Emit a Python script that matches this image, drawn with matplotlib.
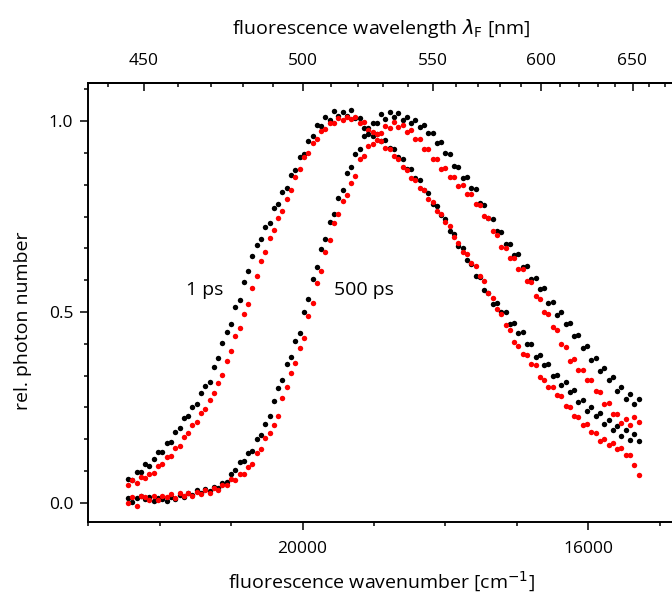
import numpy as np
import matplotlib
matplotlib.use('Agg')
import matplotlib.pyplot as plt
from matplotlib.ticker import MultipleLocator, FixedLocator, AutoMinorLocator, FormatStrFormatter

plt.rcParams['font.family'] = ['Open Sans', 'DejaVu Sans']
plt.rcParams['mathtext.fontset'] = 'dejavusans'

# fluorescence wavenumber (cm^-1), shared by all four spectra
wavenumber = [
    22440, 22380, 22320, 22260, 22200, 22140, 22080, 22020, 21960, 21900,
    21840, 21780, 21720, 21660, 21600, 21540, 21480, 21420, 21360, 21300,
    21240, 21180, 21120, 21060, 21000, 20940, 20880, 20820, 20760, 20700,
    20640, 20580, 20520, 20460, 20400, 20340, 20280, 20220, 20160, 20100,
    20040, 19980, 19920, 19860, 19800, 19740, 19680, 19620, 19560, 19500,
    19440, 19380, 19320, 19260, 19200, 19140, 19080, 19020, 18960, 18900,
    18840, 18780, 18720, 18660, 18600, 18540, 18480, 18420, 18360, 18300,
    18240, 18180, 18120, 18060, 18000, 17940, 17880, 17820, 17760, 17700,
    17640, 17580, 17520, 17460, 17400, 17340, 17280, 17220, 17160, 17100,
    17040, 16980, 16920, 16860, 16800, 16740, 16680, 16620, 16560, 16500,
    16440, 16380, 16320, 16260, 16200, 16140, 16080, 16020, 15960, 15900,
    15840, 15780, 15720, 15660, 15600, 15540, 15480, 15420, 15360, 15300]

# 1 ps spectra
ps1_black = [
    0.063, 0.061, 0.080, 0.082, 0.101, 0.098, 0.116, 0.133, 0.134, 0.156,
    0.160, 0.186, 0.196, 0.223, 0.228, 0.251, 0.258, 0.287, 0.307, 0.316,
    0.357, 0.379, 0.420, 0.447, 0.469, 0.512, 0.532, 0.580, 0.608, 0.646,
    0.676, 0.691, 0.722, 0.734, 0.772, 0.782, 0.814, 0.825, 0.858, 0.871,
    0.905, 0.915, 0.948, 0.960, 0.990, 0.988, 1.010, 1.002, 1.027, 1.013,
    1.024, 1.013, 1.030, 1.008, 1.009, 0.983, 0.982, 0.962, 0.967, 0.948,
    0.951, 0.929, 0.927, 0.905, 0.902, 0.876, 0.876, 0.851, 0.846, 0.819,
    0.812, 0.782, 0.777, 0.753, 0.745, 0.712, 0.704, 0.674, 0.668, 0.637,
    0.627, 0.594, 0.591, 0.559, 0.551, 0.522, 0.524, 0.500, 0.499, 0.469,
    0.471, 0.446, 0.448, 0.417, 0.416, 0.383, 0.387, 0.361, 0.364, 0.333,
    0.336, 0.308, 0.316, 0.290, 0.295, 0.264, 0.269, 0.241, 0.252, 0.228,
    0.236, 0.208, 0.218, 0.191, 0.202, 0.175, 0.190, 0.164, 0.181, 0.161]

ps1_red = [
    0.048, 0.060, 0.053, 0.067, 0.064, 0.076, 0.079, 0.098, 0.103, 0.121,
    0.124, 0.143, 0.150, 0.172, 0.182, 0.203, 0.212, 0.235, 0.245, 0.270,
    0.289, 0.313, 0.336, 0.372, 0.397, 0.436, 0.459, 0.495, 0.522, 0.564,
    0.594, 0.633, 0.656, 0.694, 0.714, 0.747, 0.766, 0.796, 0.819, 0.854,
    0.874, 0.906, 0.917, 0.944, 0.953, 0.975, 0.979, 0.996, 0.994, 1.009,
    1.002, 1.011, 1.006, 1.011, 0.995, 0.999, 0.978, 0.971, 0.950, 0.947,
    0.929, 0.927, 0.908, 0.902, 0.879, 0.873, 0.850, 0.845, 0.824, 0.820,
    0.797, 0.789, 0.764, 0.757, 0.735, 0.726, 0.696, 0.682, 0.658, 0.651,
    0.628, 0.620, 0.594, 0.582, 0.551, 0.538, 0.509, 0.496, 0.465, 0.453,
    0.421, 0.412, 0.389, 0.387, 0.363, 0.360, 0.329, 0.323, 0.303, 0.303,
    0.282, 0.279, 0.255, 0.252, 0.228, 0.224, 0.205, 0.206, 0.186, 0.184,
    0.163, 0.168, 0.151, 0.157, 0.141, 0.143, 0.125, 0.125, 0.100, 0.072]

# 500 ps spectra
ps500_black = [
    0.012, 0.003, 0.012, 0.018, 0.009, 0.015, 0.004, 0.014, 0.010, 0.005,
    0.016, 0.011, 0.022, 0.015, 0.025, 0.020, 0.033, 0.025, 0.036, 0.031,
    0.041, 0.039, 0.052, 0.055, 0.077, 0.085, 0.106, 0.110, 0.131, 0.137,
    0.167, 0.177, 0.208, 0.227, 0.267, 0.301, 0.322, 0.363, 0.382, 0.424,
    0.446, 0.500, 0.533, 0.587, 0.617, 0.666, 0.692, 0.736, 0.758, 0.800,
    0.820, 0.863, 0.879, 0.914, 0.927, 0.961, 0.967, 0.995, 0.995, 1.018,
    1.007, 1.025, 1.010, 1.022, 1.002, 1.012, 0.994, 1.004, 0.985, 0.990,
    0.968, 0.969, 0.943, 0.945, 0.917, 0.915, 0.883, 0.880, 0.852, 0.855,
    0.826, 0.823, 0.785, 0.780, 0.747, 0.745, 0.712, 0.710, 0.678, 0.679,
    0.650, 0.651, 0.618, 0.621, 0.587, 0.590, 0.560, 0.562, 0.525, 0.526,
    0.493, 0.499, 0.468, 0.472, 0.438, 0.439, 0.405, 0.410, 0.374, 0.379,
    0.345, 0.353, 0.322, 0.330, 0.293, 0.303, 0.273, 0.285, 0.258, 0.271]

ps500_red = [
    0.000, 0.016, -0.008, 0.018, 0.015, 0.008, 0.018, 0.008, 0.019, 0.016,
    0.023, 0.014, 0.025, 0.018, 0.026, 0.018, 0.029, 0.023, 0.033, 0.026,
    0.039, 0.034, 0.048, 0.046, 0.062, 0.060, 0.075, 0.075, 0.093, 0.103,
    0.130, 0.140, 0.169, 0.182, 0.205, 0.227, 0.276, 0.303, 0.340, 0.366,
    0.407, 0.432, 0.489, 0.524, 0.575, 0.608, 0.656, 0.689, 0.734, 0.758,
    0.791, 0.806, 0.838, 0.857, 0.900, 0.908, 0.935, 0.941, 0.966, 0.970,
    0.987, 0.983, 0.998, 0.985, 0.991, 0.972, 0.976, 0.953, 0.953, 0.927,
    0.927, 0.900, 0.900, 0.875, 0.877, 0.853, 0.854, 0.831, 0.833, 0.809,
    0.809, 0.784, 0.780, 0.751, 0.746, 0.712, 0.703, 0.671, 0.668, 0.642,
    0.642, 0.614, 0.612, 0.581, 0.578, 0.542, 0.534, 0.499, 0.494, 0.461,
    0.454, 0.417, 0.409, 0.373, 0.376, 0.347, 0.348, 0.322, 0.323, 0.293,
    0.290, 0.259, 0.261, 0.233, 0.232, 0.209, 0.220, 0.203, 0.226, 0.213]

wl_major = [450, 500, 550, 600, 650]
wl_minor = [440, 460, 470, 480, 490, 510, 520, 530, 540, 560, 570, 580,
            590, 610, 620, 630, 640, 660, 670]


def wn_to_nm(x):
    x = np.asarray(x, dtype=float)
    with np.errstate(divide='ignore'):
        return 1e7 / x


fig = plt.figure(figsize=(6.72, 6.0), dpi=100)
ax = fig.add_axes([88 / 672, 78 / 600, 586.3 / 672, 439 / 600])

ms = 3.9
ax.plot(wavenumber, ps1_black, 'o', color='black', ms=ms, mew=0)
ax.plot(wavenumber, ps1_red, 'o', color='#ff0000', ms=ms, mew=0)
ax.plot(wavenumber, ps500_black, 'o', color='black', ms=ms, mew=0)
ax.plot(wavenumber, ps500_red, 'o', color='#ff0000', ms=ms, mew=0)

ax.set_xlim(23000, 14800)
ax.set_ylim(-0.05, 1.10)

ax.xaxis.set_major_locator(MultipleLocator(4000))
ax.xaxis.set_minor_locator(MultipleLocator(1000))
ax.yaxis.set_major_locator(MultipleLocator(0.5))
ax.yaxis.set_minor_locator(AutoMinorLocator(6))
ax.yaxis.set_major_formatter(FormatStrFormatter('%.1f'))

for s in ax.spines.values():
    s.set_linewidth(1.4)
ax.spines['right'].set_visible(False)

ax.tick_params(which='both', direction='out', top=False, right=False,
               width=1.1, labelsize=12.5)
ax.tick_params(which='major', length=5.5)
ax.tick_params(which='minor', length=3)
ax.tick_params(axis='x', which='major', pad=8)
ax.tick_params(axis='y', which='major', pad=5)

ax.set_xlabel('fluorescence wavenumber [cm$^{-1}$]', fontsize=14, labelpad=9)
ax.set_ylabel('rel. photon number', fontsize=14)
ax.yaxis.set_label_coords(-0.0955, 0.458)

sec = ax.secondary_xaxis('top', functions=(wn_to_nm, wn_to_nm))
sec.xaxis.set_major_locator(FixedLocator(wl_major))
sec.xaxis.set_minor_locator(FixedLocator(wl_minor))
sec.spines['top'].set_linewidth(1.4)
sec.tick_params(which='both', direction='in', width=1.1, labelsize=12.5)
sec.tick_params(which='major', length=5.5, pad=10)
sec.tick_params(which='minor', length=3)
sec.set_xlabel('fluorescence wavelength $\\lambda_{\\mathrm{F}}$ [nm]',
               fontsize=14, labelpad=14)

ax.text(21370, 0.558, '1 ps', fontsize=14, ha='center', va='center')
ax.text(19134, 0.558, '500 ps', fontsize=14, ha='center', va='center')

fig.savefig('out.png', dpi=100)
